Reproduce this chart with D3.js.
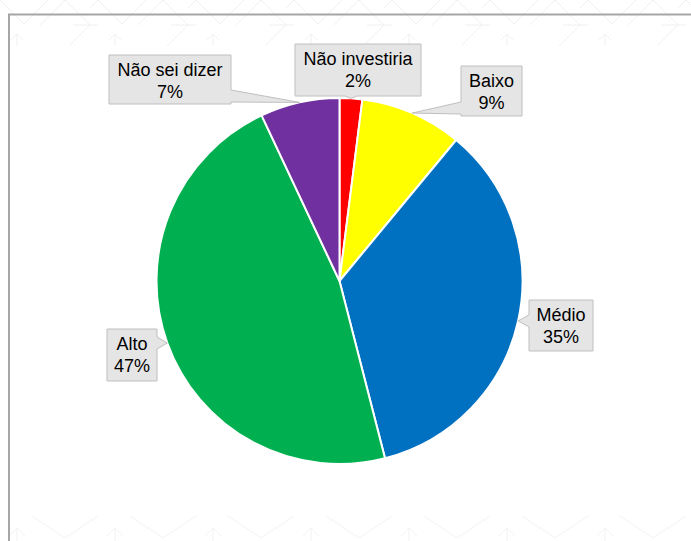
<!DOCTYPE html>
<html>
<head>
<meta charset="utf-8">
<script src="https://cdn.jsdelivr.net/npm/d3@7"></script>
<style>
  html, body { margin: 0; padding: 0; background: #ffffff; }
  svg { display: block; }
  text { font-family: "Liberation Sans", Arial, sans-serif; }
</style>
</head>
<body>
<svg id="chart" width="691" height="541"></svg>
<script>
// Respostas (%), em ordem horária a partir do topo
const categories = ["Não investiria", "Baixo", "Médio", "Alto", "Não sei dizer"];
const values = [2, 9, 35, 47, 7];
const colors = ["#ff0000", "#ffff00", "#0070c0", "#00b050", "#7030a0"];

// Caixas dos rótulos, na mesma ordem das categorias: [x0, y0, x1, y1]
const labelBoxes = [
  [295, 44, 421, 96],
  [461, 66, 522, 116],
  [529, 300, 593, 351],
  [107, 329, 157, 381],
  [109, 55, 231, 104]
];

const W = 691, H = 541;
const cx = 339.5, cy = 281, R = 183;

const svg = d3.select("#chart");

// Fundo com padrão decorativo discreto
const defs = svg.append("defs");
const patTop = defs.append("pattern")
  .attr("id", "padraoTopo").attr("patternUnits", "userSpaceOnUse")
  .attr("x", 0).attr("y", 0).attr("width", 98).attr("height", 50);
patTop.append("path")
  .attr("d", "M0,0 L24,24 M48,0 L24,24 M40,25 L65,0 L90,25 L65,50 M98,0 L90,8 M17,48 L17,34 M11,40 L17,34 L23,40 M73,25 L98,25")
  .attr("fill", "none").attr("stroke", "#f0f0f0").attr("stroke-width", 1);
svg.append("rect").attr("x", 0).attr("y", 0).attr("width", W).attr("height", 46)
  .attr("fill", "url(#padraoTopo)");

const patBot = defs.append("pattern")
  .attr("id", "padraoBase").attr("patternUnits", "userSpaceOnUse")
  .attr("x", 0).attr("y", 508).attr("width", 98).attr("height", 40);
patBot.append("path")
  .attr("d", "M32,8 L65,30 L98,8 M17,40 L17,20 M9,28 L17,20 L25,28 M0,8 L-20,22")
  .attr("fill", "none").attr("stroke", "#f2f2f2").attr("stroke-width", 1);
svg.append("rect").attr("x", 0).attr("y", 508).attr("width", W).attr("height", 33)
  .attr("fill", "url(#padraoBase)");

// Moldura da área do gráfico
svg.append("path")
  .attr("d", `M9,${H + 5} L9,14.5 L${W + 5},14.5`)
  .attr("fill", "none").attr("stroke", "#a6a6a6").attr("stroke-width", 2);

// Pizza
const data = categories.map((c, i) => ({ cat: c, value: values[i], color: colors[i], box: labelBoxes[i] }));
const pie = d3.pie().value(d => d.value).sort(null);
const arcs = pie(data);
const arc = d3.arc().innerRadius(0).outerRadius(R);
const edge = d3.arc().innerRadius(R).outerRadius(R);

const g = svg.append("g").attr("transform", `translate(${cx},${cy})`);
g.selectAll("path.fatia")
  .data(arcs)
  .join("path")
  .attr("class", "fatia")
  .attr("d", arc)
  .attr("fill", d => d.data.color)
  .attr("stroke", "#ffffff")
  .attr("stroke-width", 2)
  .attr("stroke-linejoin", "round");

// Rótulos em balão com ponteiro até a borda da fatia
function calloutPath(b, tip) {
  const [x0, y0, x1, y1] = b;
  const hw = 6;
  const [tx, ty] = tip;
  const side = tx < x0 ? "left" : tx > x1 ? "right" : ty > y1 ? "bottom" : "top";
  const my = Math.max(y0 + hw + 2, Math.min(y1 - hw - 2, ty));
  const mx = Math.max(x0 + hw + 2, Math.min(x1 - hw - 2, tx));
  const p = d3.path();
  p.moveTo(x0, y0);
  if (side === "top") { p.lineTo(mx - hw, y0); p.lineTo(tx, ty); p.lineTo(mx + hw, y0); }
  p.lineTo(x1, y0);
  if (side === "right") { p.lineTo(x1, my - hw); p.lineTo(tx, ty); p.lineTo(x1, my + hw); }
  p.lineTo(x1, y1);
  if (side === "bottom") { p.lineTo(mx + hw, y1); p.lineTo(tx, ty); p.lineTo(mx - hw, y1); }
  p.lineTo(x0, y1);
  if (side === "left") { p.lineTo(x0, my + hw); p.lineTo(tx, ty); p.lineTo(x0, my - hw); }
  p.closePath();
  return p.toString();
}

const fmt = v => d3.format(".0f")(v) + "%";

const labels = svg.append("g").selectAll("g.rotulo")
  .data(arcs)
  .join("g")
  .attr("class", "rotulo");

labels.append("path")
  .attr("d", d => {
    const c = edge.centroid(d);
    return calloutPath(d.data.box, [cx + c[0], cy + c[1]]);
  })
  .attr("fill", "#e5e5e5")
  .attr("stroke", "#bfbfbf")
  .attr("stroke-width", 1);

labels.each(function (d) {
  const [x0, y0, x1] = d.data.box;
  const t = d3.select(this).append("text")
    .attr("text-anchor", "middle")
    .attr("font-size", 18)
    .attr("fill", "#000000");
  t.append("tspan").attr("x", (x0 + x1) / 2).attr("y", y0 + 21).text(d.data.cat);
  t.append("tspan").attr("x", (x0 + x1) / 2).attr("y", y0 + 42.5).text(fmt(d.data.value));
});
</script>
</body>
</html>
